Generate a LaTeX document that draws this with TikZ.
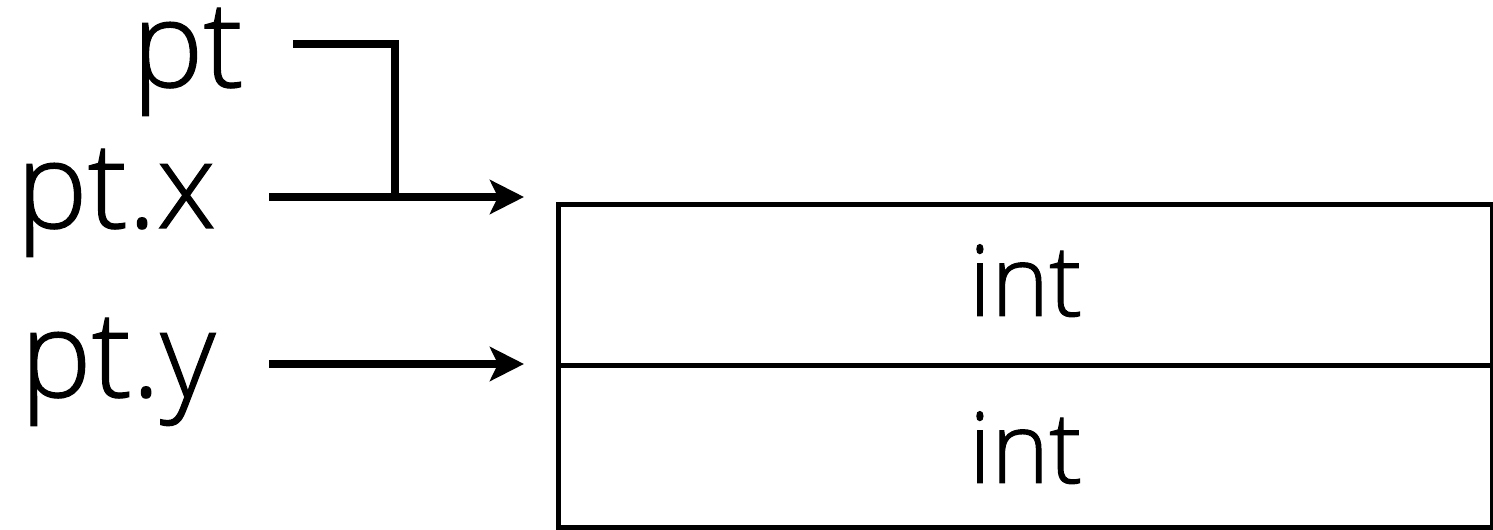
\documentclass[tikz,border=0pt]{standalone}
\usepackage{fontspec}
\IfFontExistsTF{Open Sans Light}{\setmainfont[FakeBold=1]{Open Sans Light}}{\setmainfont{Open Sans}}
\usetikzlibrary{arrows.meta}
\tikzset{
  lbl/.style={inner sep=0pt, font=\fontsize{90}{100}\selectfont},
  field/.style={inner sep=0pt, font=\fontsize{74}{80}\selectfont},
  wire/.style={line width=6pt, miter limit=10},
  arr/.style={wire, -{Stealth[length=25.5pt, width=25.5pt, inset=6pt]}},
  cell/.style={draw, line width=3.75pt, inner sep=0pt, minimum width=700.5pt},
}
\begin{document}
\begin{tikzpicture}[x=0.75pt, y=-0.75pt]
  \useasboundingbox (0,0) rectangle (1493,530);

  % variable names
  \node[lbl, anchor=base east] (pt)  at (244,87)  {pt};
  \node[lbl, anchor=base west] (ptx) at (16,228)  {pt.x};
  \node[lbl, anchor=base west] (pty) at (20,397)  {pt.y};

  % the struct: two int fields
  \node[cell, minimum height=120.75pt, anchor=north west] (fx) at (556,202) {};
  \node[cell, minimum height=121.5pt,  anchor=north west] (fy) at (556,363) {};
  \node[field, anchor=base] (ix) at (fx.center |- 0,316) {int};
  \node[field, anchor=base] (iy) at (fy.center |- 0,483) {int};

  % pointer ends
  \coordinate (sx) at (269,197);
  \coordinate (tx) at (524,197);
  \coordinate (sy) at (269,364);
  \coordinate (ty) at (524,364);
  \coordinate (sp) at (293,44);
  \coordinate (jp) at (395,197);

  \draw[wire] (sp) -| (jp);
  \draw[arr] (sx) -- (tx);
  \draw[arr] (sy) -- (ty);
\end{tikzpicture}
\end{document}
